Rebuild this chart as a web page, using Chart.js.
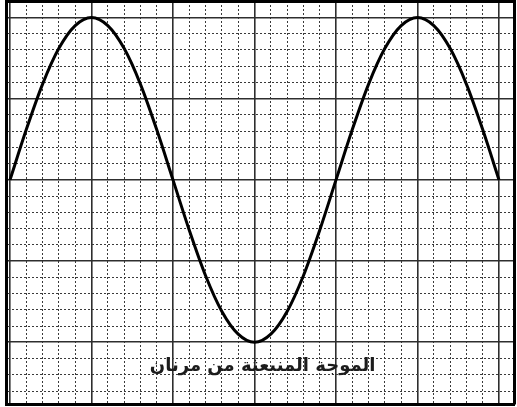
<!DOCTYPE html>
<html>
<head>
<meta charset="utf-8">
<script src="https://cdn.jsdelivr.net/npm/chart.js@4.4.1/dist/chart.umd.min.js"></script>
<style>
  html, body { margin: 0; padding: 0; background: #fff; }
</style>
</head>
<body>
<canvas id="waveChart" width="517" height="407"></canvas>
<script>
// abscisse en carreaux majeurs (un carreau = un quart de période)
const xValues = [0, 0.2, 0.4, 0.6, 0.8, 1, 1.2, 1.4, 1.6, 1.8,
                 2, 2.2, 2.4, 2.6, 2.8, 3, 3.2, 3.4, 3.6, 3.8,
                 4, 4.2, 4.4, 4.6, 4.8, 5, 5.2, 5.4, 5.6, 5.8, 6];
const yValues = [0, 0.62, 1.18, 1.62, 1.9, 2, 1.9, 1.62, 1.18, 0.62,
                 0, -0.62, -1.18, -1.62, -1.9, -2, -1.9, -1.62, -1.18, -0.62,
                 0, 0.62, 1.18, 1.62, 1.9, 2, 1.9, 1.62, 1.18, 0.62, 0];
const caption = 'الموجة المنبعثة من مرنان';

// cadre visible du papier
const xRange = [-0.049, 6.184];
const yRange = [-2.76, 2.203];
const minorStep = 0.2;
const majorStep = 1;
const captionAt = [3.1, -2.29];

const isMajor = v => Math.abs(v / majorStep - Math.round(v / majorStep)) < 1e-6;

const minorGrid = {
    color: ctx => isMajor(ctx.tick.value) ? 'rgba(0,0,0,0)' : '#3a3a3a',
    lineWidth: 1,
    drawTicks: false
};
const majorGrid = {
    color: '#2e2e2e',
    lineWidth: 1.6,
    drawTicks: false
};

function axis(pos, range, step, grid) {
    return {
        type: 'linear',
        position: pos,
        min: range[0],
        max: range[1],
        ticks: { display: false, stepSize: step, includeBounds: false },
        grid: grid,
        border: { display: true, color: '#000', width: 3, dash: grid === minorGrid ? [2, 2] : [] }
    };
}

const captionPlugin = {
    id: 'caption',
    afterDatasetsDraw(chart) {
        const ctx = chart.ctx;
        const x = chart.scales.x.getPixelForValue(captionAt[0]);
        const y = chart.scales.y.getPixelForValue(captionAt[1]);
        ctx.save();
        ctx.font = 'bold 18px "DejaVu Sans"';
        ctx.fillStyle = '#1c1c1c';
        ctx.textAlign = 'center';
        ctx.textBaseline = 'middle';
        ctx.fillText(caption, x, y);
        ctx.restore();
    }
};

new Chart(document.getElementById('waveChart'), {
    type: 'line',
    data: {
        datasets: [{
            data: xValues.map((x, i) => ({ x: x, y: yValues[i] })),
            borderColor: '#000',
            borderWidth: 3,
            pointRadius: 0,
            cubicInterpolationMode: 'monotone',
            fill: false
        }]
    },
    options: {
        responsive: false,
        animation: false,
        layout: { padding: { left: 6, top: 1, right: 3, bottom: 3 } },
        plugins: { legend: { display: false }, tooltip: { enabled: false } },
        scales: {
            x: axis('bottom', xRange, minorStep, minorGrid),
            x2: axis('top', xRange, majorStep, majorGrid),
            y: axis('left', yRange, minorStep, minorGrid),
            y2: axis('right', yRange, majorStep, majorGrid)
        }
    },
    plugins: [captionPlugin]
});
</script>
</body>
</html>
